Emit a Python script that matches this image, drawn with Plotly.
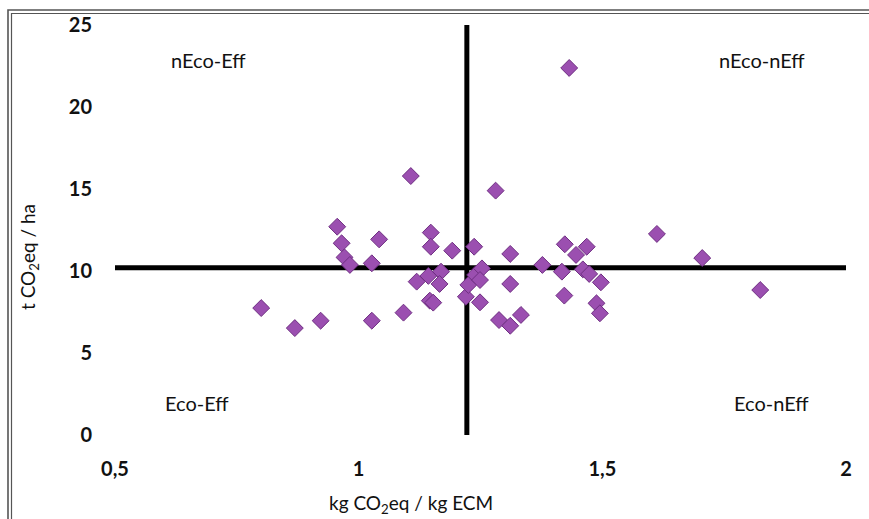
import plotly.graph_objects as go

# Data (x: kg CO2eq / kg ECM, y: t CO2eq / ha)
x_vals = [1.107, 1.281, 0.956, 0.965, 1.042, 0.971, 0.982, 1.027, 1.148, 1.148,
          1.192, 1.237, 1.311, 1.377, 1.423, 1.468, 1.446, 1.417, 1.460, 1.473,
          1.497, 1.422, 1.488, 1.495, 1.311, 1.249, 1.220, 1.225, 1.239, 1.253,
          1.249, 1.119, 1.143, 1.169, 1.166, 1.146, 1.153, 1.092, 1.027, 0.922,
          0.869, 1.288, 1.311, 1.333, 1.612, 1.432, 1.705, 1.824, 0.800]
y_vals = [15.79, 14.90, 12.70, 11.69, 11.93, 10.83, 10.37, 10.47, 12.34, 11.48,
          11.24, 11.48, 11.04, 10.37, 11.63, 11.48, 10.98, 9.96, 10.10, 9.82,
          9.31, 8.50, 8.03, 7.42, 9.21, 8.09, 8.43, 9.15, 9.76, 10.16,
          9.45, 9.35, 9.70, 9.96, 9.21, 8.19, 8.07, 7.46, 6.97, 6.97,
          6.52, 7.01, 6.66, 7.32, 12.26, 22.38, 10.79, 8.84, 7.74]

x_threshold = 1.222
y_threshold = 10.2
x_range = [0.5, 2.0]
y_range = [0, 25]

x_tickvals = [0.5, 1, 1.5, 2]
x_ticktext = ["0,5", "1", "1,5", "2"]
y_tickvals = [0, 5, 10, 15, 20, 25]
y_ticktext = ["0", "5", "10", "15", "20", "25"]

quadrant_labels = ["nEco-Eff", "nEco-nEff", "Eco-Eff", "Eco-nEff"]
quadrant_x = [0.691, 1.828, 0.668, 1.848]
quadrant_y = [22.87, 22.87, 1.95, 1.95]

FONT = "Lato, Open Sans, sans-serif"
W, H = 869, 519
L, R, T, B = 115, 23, 25, 84

fig = go.Figure()

# quadrant lines
fig.add_trace(go.Scatter(x=x_range, y=[y_threshold, y_threshold], mode="lines",
                         line=dict(color="black", width=5), hoverinfo="skip", showlegend=False))
fig.add_trace(go.Scatter(x=[x_threshold, x_threshold], y=[y_range[0] - 0.1, y_range[1]], mode="lines",
                         line=dict(color="black", width=5), hoverinfo="skip", showlegend=False))

fig.add_trace(go.Scatter(x=x_vals, y=y_vals, mode="markers",
                         marker=dict(symbol="diamond", size=13, color="#9b4fb0",
                                     line=dict(color="#6f2f82", width=1)),
                         showlegend=False))

for t, qx, qy in zip(quadrant_labels, quadrant_x, quadrant_y):
    fig.add_annotation(x=qx, y=qy, text=t, showarrow=False,
                       xanchor="center", yanchor="middle",
                       font=dict(family=FONT, size=20, color="#111"))

pw = W - L - R
ph = H - T - B
def px(p):
    return (p - L) / pw
def py(p):
    return (H - B - p) / ph

# axis titles as annotations
fig.add_annotation(x=px(29), y=py(257), xref="paper", yref="paper", text="t CO<sub>2</sub>eq / ha",
                   textangle=-90, showarrow=False, xanchor="center", yanchor="middle",
                   font=dict(family=FONT, size=19, color="#111"))
fig.add_annotation(x=px(411), y=py(504), xref="paper", yref="paper", text="kg CO<sub>2</sub>eq / kg ECM",
                   showarrow=False, xanchor="center", yanchor="middle",
                   font=dict(family=FONT, size=19, color="#111"))

# frame (double line)
for off, w in [(8, 1.6), (11.5, 1.2)]:
    fig.add_shape(type="rect", xref="paper", yref="paper",
                  x0=px(off), y0=py(H + 40), x1=px(W + 40), y1=py(off + 2),
                  line=dict(color="#555", width=w), fillcolor="rgba(0,0,0,0)", layer="below")

fig.update_layout(
    width=W, height=H,
    margin=dict(l=L, r=R, t=T, b=B),
    plot_bgcolor="white", paper_bgcolor="white",
    font=dict(family=FONT, color="#111"),
    xaxis=dict(range=x_range, tickvals=x_tickvals, ticktext=x_ticktext,
               showgrid=False, zeroline=False, showline=False, ticks="",
               ticklabelstandoff=20,
               tickfont=dict(size=20, family=FONT, weight="bold")),
    yaxis=dict(range=y_range, tickvals=y_tickvals, ticktext=y_ticktext,
               showgrid=False, zeroline=False, showline=False, ticks="",
               ticklabelstandoff=22,
               tickfont=dict(size=20, family=FONT, weight="bold")),
)

fig.write_html("out.html", config={"displayModeBar": False},
               post_script="document.body.style.margin='0';document.body.style.overflow='hidden';")
